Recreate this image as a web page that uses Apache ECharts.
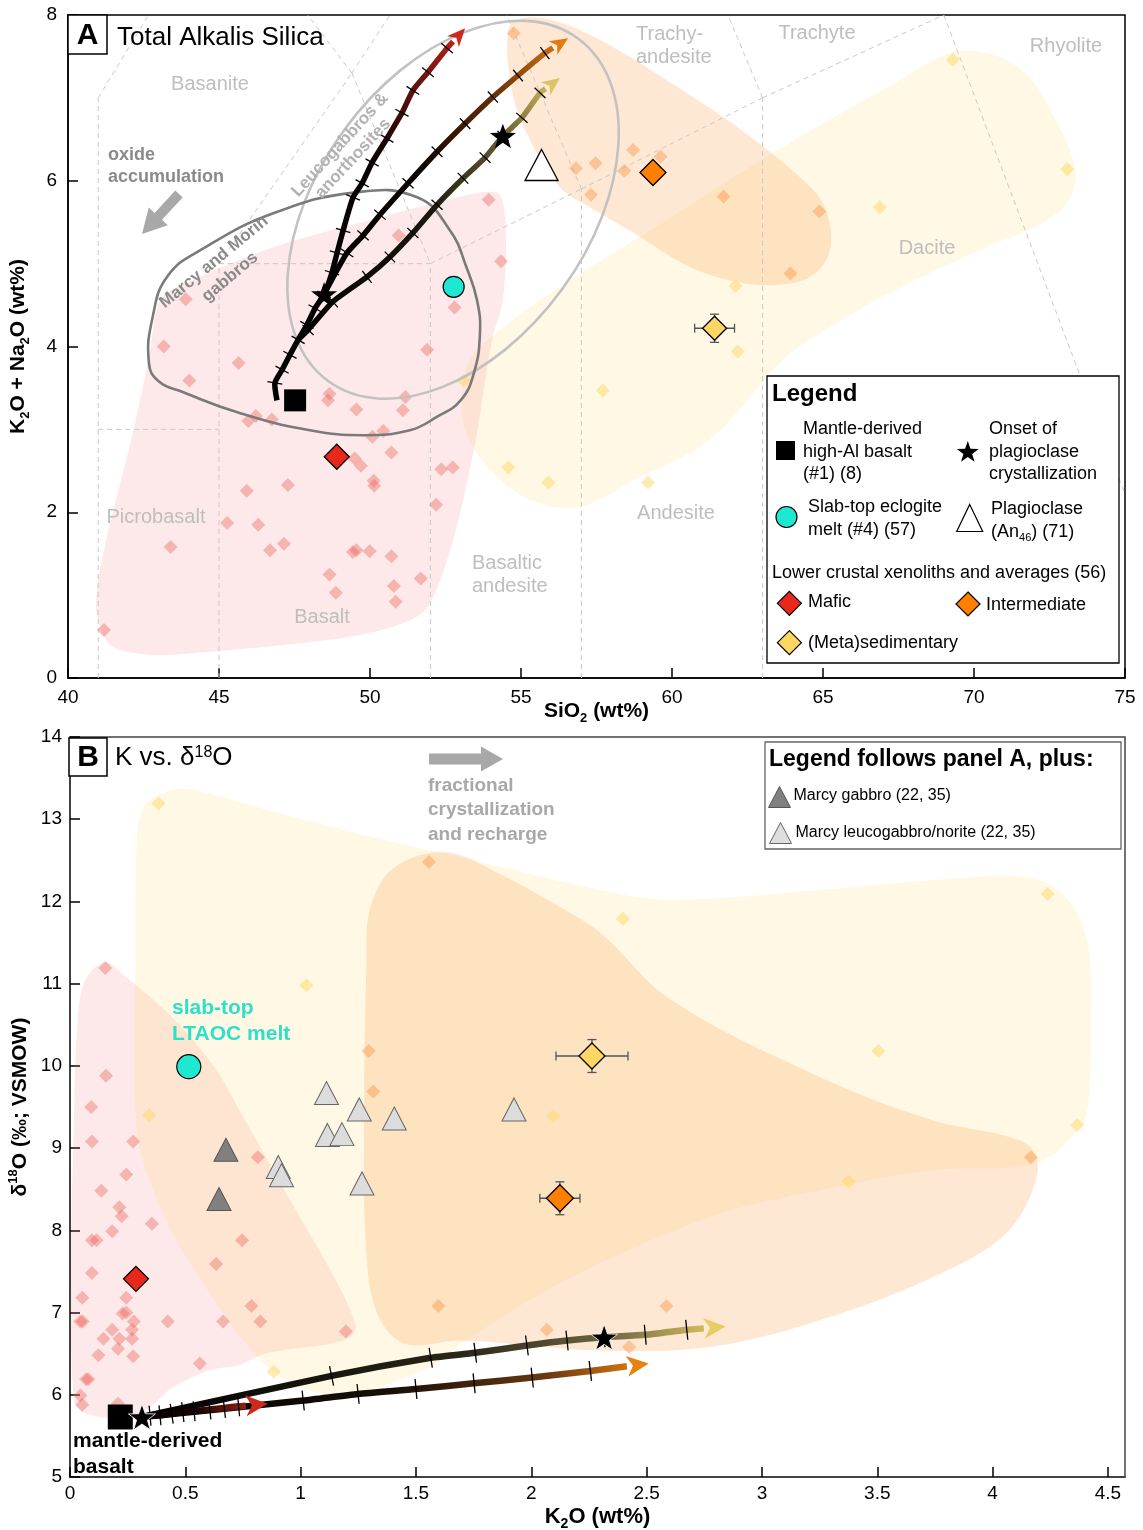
<!DOCTYPE html>
<html>
<head>
<meta charset="utf-8">
<title>TAS and K vs d18O</title>
<script src="https://cdn.jsdelivr.net/npm/echarts@6.0.0/dist/echarts.min.js"></script>
<style>
html,body{margin:0;padding:0;background:#ffffff;}
#chart{width:1143px;height:1530px;}
</style>
</head>
<body>
<div id="chart"></div>
<script>
const FONT = '"Liberation Sans", Arial, Helvetica, sans-serif';

// ================= PANEL A : Total Alkalis vs Silica =================
const tasXRange = [40, 75, 5];
const tasYRange = [0, 8, 2];

const tasBoundaries = [
  [[41,0],[41,7]], [[41,3],[45,3]], [[45,0],[45,5]], [[45,5],[52,5]],
  [[52,0],[52,5]], [[52,5],[57,5.9]], [[57,0],[57,5.9]], [[57,5.9],[63,7]],
  [[63,0],[63,7]], [[63,7],[69,8]], [[69,8],[77.3,0]], [[41,7],[45,9.4]],
  [[45,5],[49.4,7.3]], [[49.4,7.3],[52,5]], [[49.4,7.3],[45,9.4]], [[49.4,7.3],[53,9.3]],
  [[57,5.9],[53,9.3]], [[63,7],[57.6,11.7]]
];

const maficFieldA = [[40.93,0.86],[41.26,1.66],[42.09,2.87],[42.68,3.87],[43.05,4.56],[43.87,4.76],[46.82,5.20],[50.36,5.56],[53.68,5.86],[54.30,5.83],[54.50,5.37],[54.40,4.56],[54.04,4.08],[53.44,2.75],[52.75,1.66],[51.92,0.86],[51.09,0.66],[49.21,0.49],[44.47,0.31],[42.72,0.28],[41.39,0.40]];
const interFieldA = [[54.60,7.85],[54.70,7.09],[55.30,6.49],[56.29,5.92],[57.28,5.68],[58.74,5.37],[60.60,4.96],[62.45,4.76],[63.91,4.76],[64.77,4.89],[65.23,5.16],[65.17,5.56],[64.67,5.89],[62.45,6.57],[59.97,7.18],[57.62,7.70],[56.29,7.91],[55.20,7.97]];
const metaFieldA = [[53.05,3.35],[53.31,3.84],[54.30,4.20],[56.29,4.72],[59.97,5.56],[63.68,6.41],[67.38,7.18],[69.21,7.54],[70.43,7.54],[71.69,7.30],[72.65,6.77],[73.34,6.16],[73.15,5.77],[72.28,5.49],[70.43,5.20],[67.38,4.68],[64.90,4.16],[63.68,3.84],[61.23,2.87],[58.74,2.39],[56.89,2.06],[55.30,2.15],[53.97,2.51],[53.15,2.99]];

const gabbroOutlineA = [[42.68,3.80],[42.80,4.35],[43.30,4.85],[44.47,5.18],[46.82,5.61],[49.54,5.86],[51.56,5.80],[52.65,5.40],[53.20,4.95],[53.55,4.55],[53.64,4.15],[53.44,3.68],[53.00,3.35],[52.21,3.15],[51.32,2.99],[49.80,2.93],[48.01,2.99],[45.66,3.20],[43.80,3.45],[43.00,3.58]];
// leucogabbro/anorthosite field: centre (SiO2, alkalis)
const leucoCentreA = [52.75, 5.65];

const maficPtsA = [[43.17,4.00],[45.65,3.80],[44.02,3.59],[48.66,3.43],[48.61,3.35],[49.55,3.24],[51.09,3.23],[51.17,3.39],[46.22,3.16],[45.97,3.10],[46.75,3.12],[51.89,3.96],[50.44,2.98],[50.08,2.91],[50.71,2.72],[49.49,2.65],[49.70,2.56],[50.12,2.38],[50.14,2.32],[52.36,2.52],[52.74,2.54],[52.19,2.09],[47.28,2.33],[45.92,2.26],[45.27,1.87],[46.30,1.85],[43.40,1.58],[47.15,1.62],[46.69,1.54],[49.43,1.52],[49.55,1.54],[49.99,1.53],[50.71,1.47],[48.66,1.25],[48.87,1.03],[50.79,1.11],[50.85,0.92],[51.68,1.20],[41.19,0.58],[53.93,5.77],[50.95,5.34],[54.34,5.03],[43.90,4.57],[52.80,4.47]];
const interPtsA = [[54.76,7.78],[56.82,6.15],[57.47,6.21],[57.32,5.83],[58.71,6.37],[59.62,6.29],[58.42,6.12],[61.71,5.81],[64.88,5.63],[63.92,4.88]];
const metaPtsA = [[69.30,7.46],[73.09,6.14],[66.88,5.68],[62.10,4.73],[62.18,3.94],[57.71,3.47],[59.21,2.36],[53.10,3.59],[54.58,2.54],[55.91,2.36]];

const mantleA = [[47.52,3.35]];
const slabMeltA = [[52.77,4.72]];
const plagA = [[55.68,6.19]];
const maficAvgA = [[48.90,2.67]];
const interAvgA = [[59.37,6.10]];
const metaAvgA = [[61.41,4.22]];
const metaErrA = [[61.41,4.22,0.66,0.17]];
const plagOnsetA = [[48.48,4.63],[54.40,6.54]];

const redPathA = [[46.92,3.35],[46.85,3.56],[47.09,3.72],[47.35,3.90],[47.62,4.08],[47.91,4.26],[48.18,4.46],[48.48,4.63],[48.74,4.89],[48.91,5.13],[49.11,5.40],[49.44,5.80],[49.74,5.97],[50.07,6.22],[50.56,6.51],[51.06,6.82],[51.42,7.09],[51.92,7.31],[52.55,7.60],[53.15,7.84]];
const orangePathA = [[48.48,4.63],[49.24,5.13],[49.77,5.34],[50.33,5.59],[51.26,5.97],[52.22,6.35],[53.15,6.69],[54.07,7.01],[54.90,7.27],[55.79,7.54],[56.56,7.72]];
const yellowPathA = [[47.62,4.08],[47.95,4.20],[48.77,4.54],[49.90,4.84],[50.66,5.08],[51.42,5.37],[52.22,5.71],[53.08,6.03],[53.81,6.28],[54.40,6.54],[55.03,6.76],[55.63,7.06],[56.29,7.24]];

// ================= PANEL B : K2O vs d18O =================
const kXRange = [0, 4.574, 0.5];
const dYRange = [5, 14, 1];

const maficFieldB = [[0.152,11.26],[0.243,11.08],[0.443,10.59],[0.625,9.99],[0.759,9.34],[0.954,8.37],[1.128,7.52],[1.215,7.03],[1.235,6.78],[1.157,6.64],[0.859,6.51],[0.731,6.36],[0.607,6.30],[0.441,6.08],[0.325,5.81],[0.195,5.72],[0.061,5.78],[0.017,5.93],[0.004,7.55],[0.017,9.34],[0.030,10.40],[0.061,11.01]];
const metaFieldB = [[0.412,13.33],[0.312,13.11],[0.286,12.42],[0.282,11.20],[0.286,9.34],[0.325,8.77],[0.443,7.97],[0.625,7.15],[0.725,6.75],[0.859,6.34],[1.024,6.06],[1.235,6.02],[1.564,6.34],[1.701,6.63],[2.126,7.36],[2.772,8.16],[3.254,8.49],[3.740,8.73],[4.191,8.82],[4.382,9.26],[4.416,9.58],[4.425,10.40],[4.416,11.41],[4.351,11.93],[4.221,12.24],[4.061,12.31],[3.740,12.26],[3.254,12.14],[2.607,12.02],[2.299,12.14],[1.688,12.54],[1.358,12.75],[0.859,13.11],[0.521,13.36]];
const interFieldB = [[1.623,12.60],[1.40,12.40],[1.30,11.90],[1.285,11.20],[1.275,9.34],[1.284,7.76],[1.33,7.00],[1.45,6.62],[1.70,6.66],[2.28,6.54],[2.772,6.58],[3.254,6.91],[3.740,7.43],[4.061,7.97],[4.195,8.70],[4.142,9.06],[3.740,9.34],[3.254,9.86],[2.607,10.80],[2.299,11.62],[2.126,11.93],[1.852,12.35]];

const maficPtsB = [[0.153,11.19],[0.156,9.88],[0.092,9.50],[0.095,9.08],[0.274,9.08],[0.244,8.68],[0.136,8.48],[0.214,8.28],[0.224,8.17],[0.183,7.99],[0.355,8.08],[0.095,7.88],[0.115,7.88],[0.095,7.48],[0.053,7.18],[0.244,7.18],[0.045,6.89],[0.055,6.89],[0.228,6.99],[0.244,7.00],[0.277,6.89],[0.424,6.89],[0.183,6.79],[0.214,6.68],[0.145,6.68],[0.269,6.79],[0.269,6.68],[0.208,6.56],[0.123,6.48],[0.274,6.47],[0.563,6.38],[0.070,6.19],[0.080,6.19],[0.045,5.99],[0.053,5.88],[0.208,5.89],[0.634,7.59],[0.746,7.88],[0.814,8.89],[0.787,7.08],[0.664,6.89],[0.825,6.89],[1.196,6.77]];
const interPtsB = [[1.295,10.18],[1.315,9.69],[1.556,12.48],[4.166,8.89],[2.586,7.08],[2.424,6.58],[2.067,6.79],[1.597,7.08]];
const metaPtsB = [[0.384,13.19],[1.025,10.98],[0.343,9.40],[2.397,11.79],[4.239,12.09],[3.505,10.18],[0.883,6.28],[2.096,9.39],[4.367,9.28],[3.375,8.59]];

const mantleB = [[0.218,5.73]];
const slabMeltB = [[0.515,9.99]];
const maficAvgB = [[0.286,7.41]];
const interAvgB = [[2.124,8.39]];
const metaAvgB = [[2.263,10.12]];
const avgErrB = [[2.124,8.39,0.087,0.20],[2.263,10.12,0.156,0.20]];
const marcyGabbroB = [[0.676,8.98],[0.646,8.38]];
const marcyLeucoB = [[1.112,9.67],[1.254,9.47],[1.406,9.36],[1.925,9.47],[1.116,9.16],[1.179,9.17],[0.903,8.77],[0.917,8.67],[1.266,8.57]];
const plagOnsetB = [[0.312,5.73],[2.316,6.70]];

const redPathB = [[0.312,5.73],[0.347,5.745],[0.390,5.75],[0.441,5.77],[0.489,5.79],[0.538,5.80],[0.606,5.82],[0.669,5.84],[0.731,5.86],[0.857,5.89]];
const orangePathB = [[0.312,5.73],[1.011,5.93],[1.249,6.01],[1.500,6.07],[1.752,6.14],[2.004,6.21],[2.256,6.29],[2.509,6.38]];
const yellowPathB = [[0.312,5.73],[1.134,6.23],[1.564,6.45],[1.757,6.51],[1.981,6.60],[2.155,6.66],[2.316,6.70],[2.494,6.73],[2.674,6.79],[2.843,6.83]];

// ================= helpers =================
const STAR = 'M0,-10 L2.35,-3.24 L9.51,-3.09 L3.8,1.24 L5.88,8.09 L0,4 L-5.88,8.09 L-3.8,1.24 L-9.51,-3.09 L-2.35,-3.24 Z';

function polySeries(ax, pts, style, smooth, z) {
  return {
    type: 'custom', xAxisIndex: ax, yAxisIndex: ax, data: [pts[0]], silent: true, z: z, clip: true,
    renderItem: function (params, api) {
      return { type: 'polygon', shape: { points: pts.map(p => api.coord(p)), smooth: smooth }, style: style };
    }
  };
}

function ellipseSeries(ax, centre, rx, ry, angleDeg, style, z) {
  return {
    type: 'custom', xAxisIndex: ax, yAxisIndex: ax, data: [centre], silent: true, z: z, clip: true,
    renderItem: function (params, api) {
      const c = api.coord(centre);
      return { type: 'ellipse', x: c[0], y: c[1], rotation: angleDeg * Math.PI / 180,
        shape: { cx: 0, cy: 0, rx: rx, ry: ry }, style: style };
    }
  };
}

function segSeries(ax, segs, style, z) {
  return {
    type: 'custom', xAxisIndex: ax, yAxisIndex: ax, data: [segs[0][0]], silent: true, z: z, clip: true,
    renderItem: function (params, api) {
      return {
        type: 'group', children: segs.map(s => {
          const a = api.coord(s[0]), b = api.coord(s[1]);
          return { type: 'line', shape: { x1: a[0], y1: a[1], x2: b[0], y2: b[1] }, style: style };
        })
      };
    }
  };
}

function pathSeries(ax, pts, o, z) {
  return {
    type: 'custom', xAxisIndex: ax, yAxisIndex: ax, data: [pts[0]], silent: true, z: z, clip: false,
    renderItem: function (params, api) {
      const P = pts.map(p => api.coord(p));
      const n = P.length;
      const tip = P[n - 1], prev = P[n - 2];
      let dx = tip[0] - prev[0], dy = tip[1] - prev[1];
      const L = Math.hypot(dx, dy); dx /= L; dy /= L;
      const base = [tip[0] - dx * o.headLen, tip[1] - dy * o.headLen];
      const linePts = P.slice(0, n - 1).concat([base]);
      const grad = new echarts.graphic.LinearGradient(P[0][0], P[0][1], tip[0], tip[1], o.stops, true);
      const ch = [];
      ch.push({ type: 'polyline', shape: { points: linePts, smooth: 0.2 }, style: { stroke: grad, lineWidth: o.width, fill: null, lineCap: 'butt', lineJoin: 'round' } });
      for (let i = 1; i < n - 1; i++) {
        const a = P[i - 1], b = P[i + 1];
        let tx = b[0] - a[0], ty = b[1] - a[1];
        const l = Math.hypot(tx, ty); tx /= l; ty /= l;
        const nx = -ty, ny = tx;
        ch.push({ type: 'line', shape: { x1: P[i][0] - nx * o.tick, y1: P[i][1] - ny * o.tick, x2: P[i][0] + nx * o.tick, y2: P[i][1] + ny * o.tick }, style: { stroke: '#000', lineWidth: 1.3 } });
      }
      const nx = -dy, ny = dx, hw = o.headW / 2;
      ch.push({ type: 'polygon', shape: { points: [tip, [base[0] + nx * hw, base[1] + ny * hw], [base[0] + dx * o.headLen * 0.28, base[1] + dy * o.headLen * 0.28], [base[0] - nx * hw, base[1] - ny * hw]] }, style: { fill: o.head } });
      return { type: 'group', children: ch };
    }
  };
}

function errSeries(ax, rows, z) {
  return {
    type: 'custom', xAxisIndex: ax, yAxisIndex: ax, data: [[rows[0][0], rows[0][1]]], silent: true, z: z, clip: false,
    renderItem: function (params, api) {
      const st = { stroke: '#555', lineWidth: 1.3 };
      const ch = [];
      const ln = (x1, y1, x2, y2) => ch.push({ type: 'line', shape: { x1, y1, x2, y2 }, style: st });
      rows.forEach(r => {
        const l = api.coord([r[0] - r[2], r[1]]), rr = api.coord([r[0] + r[2], r[1]]);
        const t = api.coord([r[0], r[1] + r[3]]), b = api.coord([r[0], r[1] - r[3]]);
        ln(l[0], l[1], rr[0], rr[1]); ln(l[0], l[1] - 4.5, l[0], l[1] + 4.5); ln(rr[0], rr[1] - 4.5, rr[0], rr[1] + 4.5);
        ln(t[0], t[1], b[0], b[1]); ln(t[0] - 4.5, t[1], t[0] + 4.5, t[1]); ln(b[0] - 4.5, b[1], b[0] + 4.5, b[1]);
      });
      return { type: 'group', children: ch };
    }
  };
}

function sc(ax, data, symbol, size, color, border, bw, z) {
  return {
    type: 'scatter', xAxisIndex: ax, yAxisIndex: ax, data: data, symbol: symbol, symbolSize: size,
    symbolKeepAspect: true, silent: true, z: z, animation: false,
    itemStyle: { color: color, borderColor: border || 'rgba(0,0,0,0)', borderWidth: bw || 0, opacity: 1 }
  };
}

function txt(x, y, text, o) {
  o = o || {};
  const el = {
    type: 'text', x: x, y: y, z: 100, silent: true, rotation: o.rot ? o.rot * Math.PI / 180 : 0,
    style: {
      text: text, fill: o.color || '#000',
      font: (o.weight || 'normal') + ' ' + (o.size || 18) + 'px ' + FONT,
      textAlign: o.align || 'left', align: o.align || 'left',
      textVerticalAlign: o.va || 'middle', verticalAlign: o.va || 'middle'
    }
  };
  if (o.lh) el.style.lineHeight = o.lh;
  if (o.rich) el.style.rich = o.rich;
  return el;
}

function arrowPts(x1, y1, x2, y2, sw, hl, hw) {
  const dx = x2 - x1, dy = y2 - y1, L = Math.hypot(dx, dy), ux = dx / L, uy = dy / L, nx = -uy, ny = ux;
  const bx = x2 - ux * hl, by = y2 - uy * hl;
  return [[x1 + nx * sw / 2, y1 + ny * sw / 2], [bx + nx * sw / 2, by + ny * sw / 2], [bx + nx * hw / 2, by + ny * hw / 2], [x2, y2],
          [bx - nx * hw / 2, by - ny * hw / 2], [bx - nx * sw / 2, by - ny * sw / 2], [x1 - nx * sw / 2, y1 - ny * sw / 2]];
}
function diamondPts(cx, cy, s) { const h = s / 2; return [[cx, cy - h], [cx + h, cy], [cx, cy + h], [cx - h, cy]]; }
function triPts(cx, cy, w, h) { return [[cx, cy - h / 2], [cx + w / 2, cy + h / 2], [cx - w / 2, cy + h / 2]]; }
function starPts(cx, cy, r) {
  const out = [];
  for (let i = 0; i < 10; i++) {
    const ang = -Math.PI / 2 + i * Math.PI / 5;
    const rr = (i % 2 === 0) ? r : r * 0.4;
    out.push([cx + rr * Math.cos(ang), cy + rr * Math.sin(ang)]);
  }
  return out;
}
function poly(points, fill, stroke, lw) { return { type: 'polygon', z: 101, silent: true, shape: { points }, style: { fill, stroke: stroke || null, lineWidth: lw || 0 } }; }

// ================= styles =================
const FILL_MAFIC = 'rgba(240,120,120,0.16)';
const FILL_META = 'rgba(255,212,100,0.17)';
const FILL_INTER = 'rgba(250,165,90,0.26)';
const PT_MAFIC = 'rgba(236,100,90,0.40)';
const PT_INTER = 'rgba(250,150,70,0.45)';
const PT_META = 'rgba(255,215,100,0.50)';
const C_RED = '#e8281a', C_ORANGE = '#ff7f00', C_YELLOW = '#fdd663', C_CYAN = '#1de9d2';

const subRich = (size) => ({
  b: { fontSize: size, fontWeight: 'bold', fontFamily: FONT, lineHeight: size + 6, color: '#000' },
  s: { fontSize: Math.round(size * 0.62), fontWeight: 'bold', fontFamily: FONT, verticalAlign: 'bottom', lineHeight: Math.round(size * 0.62), color: '#000' },
  p: { fontSize: Math.round(size * 0.62), fontWeight: 'bold', fontFamily: FONT, verticalAlign: 'top', lineHeight: Math.round(size * 0.62), color: '#000' }
});

function axisBase(extra) {
  return Object.assign({
    type: 'value',
    axisLine: { show: true, onZero: false, lineStyle: { color: '#000', width: 1.5 } },
    axisTick: { show: true, inside: true, length: 10, lineStyle: { color: '#000', width: 1.5 } },
    axisLabel: { color: '#000', fontSize: 19, fontFamily: FONT },
    splitLine: { show: false },
    nameLocation: 'middle', nameMoveOverlap: false
  }, extra);
}

const series = [
  // ---- panel A ----
  polySeries(0, metaFieldA, { fill: FILL_META }, 0.35, 1),
  polySeries(0, interFieldA, { fill: FILL_INTER }, 0.35, 1),
  polySeries(0, maficFieldA, { fill: FILL_MAFIC }, 0.3, 1),
  segSeries(0, tasBoundaries, { stroke: '#c9c9c9', lineWidth: 1, lineDash: [5, 4] }, 2),
  sc(0, maficPtsA, 'diamond', 14, PT_MAFIC, null, 0, 3),
  sc(0, interPtsA, 'diamond', 14, PT_INTER, null, 0, 3),
  sc(0, metaPtsA, 'diamond', 14, PT_META, null, 0, 3),
  ellipseSeries(0, leucoCentreA, 212, 135, 54, { fill: null, stroke: '#c2c2c2', lineWidth: 2.6 }, 4),
  polySeries(0, gabbroOutlineA, { fill: null, stroke: '#7a7a7a', lineWidth: 2.6 }, 0.45, 4),
  pathSeries(0, redPathA, { width: 5.5, tick: 7.5, headLen: 18, headW: 16, head: '#cc2a1c',
    stops: [{ offset: 0, color: '#000' }, { offset: 0.62, color: '#0a0202' }, { offset: 0.85, color: '#6e140e' }, { offset: 1, color: '#cc2a1c' }] }, 5),
  pathSeries(0, orangePathA, { width: 5.5, tick: 7.5, headLen: 18, headW: 16, head: '#e27a12',
    stops: [{ offset: 0, color: '#000' }, { offset: 0.45, color: '#0c0600' }, { offset: 0.72, color: '#5e2c08' }, { offset: 1, color: '#e27a12' }] }, 5),
  pathSeries(0, yellowPathA, { width: 5.5, tick: 7.5, headLen: 18, headW: 16, head: '#dcc464',
    stops: [{ offset: 0, color: '#000' }, { offset: 0.5, color: '#1c180e' }, { offset: 0.78, color: '#6a5e34' }, { offset: 1, color: '#dcc464' }] }, 5),
  errSeries(0, metaErrA, 6),
  sc(0, mantleA, 'rect', 22, '#000', null, 0, 7),
  sc(0, slabMeltA, 'circle', 21, C_CYAN, '#000', 1.2, 7),
  sc(0, plagA, 'triangle', [33, 31], '#fff', '#000', 1.3, 7),
  sc(0, maficAvgA, 'diamond', 25, C_RED, '#000', 1.3, 7),
  sc(0, interAvgA, 'diamond', 26, C_ORANGE, '#000', 1.3, 7),
  sc(0, metaAvgA, 'diamond', 24, C_YELLOW, '#000', 1.3, 7),
  sc(0, plagOnsetA, 'path://' + STAR, 26, '#000', null, 0, 8),

  // ---- panel B ----
  polySeries(1, maficFieldB, { fill: FILL_MAFIC }, 0.35, 1),
  polySeries(1, metaFieldB, { fill: FILL_META }, 0.35, 1),
  polySeries(1, interFieldB, { fill: FILL_INTER }, 0.35, 1),
  sc(1, maficPtsB, 'diamond', 14, PT_MAFIC, null, 0, 3),
  sc(1, interPtsB, 'diamond', 14, PT_INTER, null, 0, 3),
  sc(1, metaPtsB, 'diamond', 14, PT_META, null, 0, 3),
  pathSeries(1, yellowPathB, { width: 6.5, tick: 10, headLen: 22, headW: 21, head: '#e6cc66',
    stops: [{ offset: 0, color: '#000' }, { offset: 0.55, color: '#2a2618' }, { offset: 0.8, color: '#6e6440' }, { offset: 1, color: '#e6cc66' }] }, 5),
  pathSeries(1, orangePathB, { width: 6.5, tick: 10, headLen: 22, headW: 21, head: '#e8820e',
    stops: [{ offset: 0, color: '#000' }, { offset: 0.5, color: '#1a0f06' }, { offset: 0.8, color: '#6a3812' }, { offset: 1, color: '#e8820e' }] }, 5),
  pathSeries(1, redPathB, { width: 6.5, tick: 10, headLen: 22, headW: 21, head: '#cc2a1c',
    stops: [{ offset: 0, color: '#000' }, { offset: 0.45, color: '#1a0604' }, { offset: 1, color: '#cc2a1c' }] }, 5),
  errSeries(1, avgErrB, 6),
  sc(1, marcyGabbroB, 'triangle', [24, 23], '#808080', '#555', 1, 7),
  sc(1, marcyLeucoB, 'triangle', [24, 23], '#dcdcdc', '#666', 1, 7),
  sc(1, mantleB, 'rect', 25, '#000', null, 0, 7),
  sc(1, slabMeltB, 'circle', 24, C_CYAN, '#000', 1.2, 7),
  sc(1, maficAvgB, 'diamond', 25, C_RED, '#000', 1.3, 7),
  sc(1, interAvgB, 'diamond', 27, C_ORANGE, '#000', 1.3, 7),
  sc(1, metaAvgB, 'diamond', 26, C_YELLOW, '#000', 1.3, 7),
  sc(1, plagOnsetB, 'path://' + STAR, 27, '#000', '#fff', 0.8, 8)
];

// ================= annotations =================
const GREY_LBL = '#bebebe';
const graphics = [
  // Panel A header
  { type: 'rect', z: 100, silent: true, shape: { x: 68, y: 15, width: 39, height: 39 }, style: { fill: '#fff', stroke: '#000', lineWidth: 1.5 } },
  txt(87.5, 35.5, 'A', { weight: 'bold', size: 30, align: 'center' }),
  txt(117, 38, 'Total Alkalis Silica', { size: 26 }),
  // field names
  txt(210, 84, 'Basanite', { color: GREY_LBL, size: 20, align: 'center' }),
  txt(156, 517, 'Picrobasalt', { color: GREY_LBL, size: 20, align: 'center' }),
  txt(322, 617, 'Basalt', { color: GREY_LBL, size: 20, align: 'center' }),
  txt(472, 575, 'Basaltic\nandesite', { color: GREY_LBL, size: 20, lh: 23 }),
  txt(676, 513, 'Andesite', { color: GREY_LBL, size: 20, align: 'center' }),
  txt(927, 248, 'Dacite', { color: GREY_LBL, size: 20, align: 'center' }),
  txt(636, 46, 'Trachy-\nandesite', { color: GREY_LBL, size: 20, lh: 23 }),
  txt(817, 33, 'Trachyte', { color: GREY_LBL, size: 20, align: 'center' }),
  txt(1066, 46, 'Rhyolite', { color: GREY_LBL, size: 20, align: 'center' }),
  // oxide accumulation
  txt(108, 166, 'oxide\naccumulation', { weight: 'bold', size: 18, color: '#8a8a8a', lh: 22 }),
  poly(arrowPts(179, 194, 142, 234, 10, 24, 26), '#a8a8a8'),
  // outline labels
  txt(214, 262, 'Marcy and Morin', { weight: 'bold', size: 17, color: '#8a8a8a', align: 'center', rot: 39.5 }),
  txt(230, 277, 'gabbros', { weight: 'bold', size: 17, color: '#8a8a8a', align: 'center', rot: 40 }),
  txt(340, 145, 'Leucogabbros &', { weight: 'bold', size: 17, color: '#b2b2b2', align: 'center', rot: 47.5 }),
  txt(353, 158.5, 'anorthosites', { weight: 'bold', size: 17, color: '#b2b2b2', align: 'center', rot: 47 }),

  // Legend A
  { type: 'rect', z: 100, silent: true, shape: { x: 767, y: 376, width: 352, height: 287 }, style: { fill: '#fff', stroke: '#000', lineWidth: 1.3 } },
  txt(772, 394, 'Legend', { weight: 'bold', size: 24 }),
  { type: 'rect', z: 101, silent: true, shape: { x: 776, y: 441, width: 19, height: 19 }, style: { fill: '#000' } },
  txt(803, 418, 'Mantle-derived\nhigh-Al basalt\n(#1) (8)', { size: 18, va: 'top', lh: 22.5 }),
  poly(starPts(967.8, 452.5, 11.5), '#000'),
  txt(989, 418, 'Onset of\nplagioclase\ncrystallization', { size: 18, va: 'top', lh: 22.5 }),
  { type: 'circle', z: 101, silent: true, shape: { cx: 786.5, cy: 517, r: 10.5 }, style: { fill: C_CYAN, stroke: '#000', lineWidth: 1.2 } },
  txt(808, 496, 'Slab-top eclogite\nmelt (#4) (57)', { size: 18, va: 'top', lh: 22.5 }),
  poly(triPts(969.7, 518, 26, 27), '#fff', '#000', 1.2),
  txt(991, 498, 'Plagioclase\n(An{s|46}) (71)', { size: 18, va: 'top', lh: 22.5,
    rich: { s: { fontSize: 11, fontFamily: FONT, verticalAlign: 'bottom', lineHeight: 11, color: '#000' } } }),
  txt(772, 573, 'Lower crustal xenoliths and averages (56)', { size: 18 }),
  poly(diamondPts(789.4, 603.3, 24), C_RED, '#000', 1.2),
  txt(808, 602, 'Mafic', { size: 18 }),
  poly(diamondPts(968, 604, 24), C_ORANGE, '#000', 1.2),
  txt(986, 605, 'Intermediate', { size: 18 }),
  poly(diamondPts(789.4, 642.7, 24), C_YELLOW, '#000', 1.2),
  txt(808, 643, '(Meta)sedimentary', { size: 18 }),

  // Panel B header
  { type: 'rect', z: 100, silent: true, shape: { x: 69, y: 738, width: 38, height: 38 }, style: { fill: '#fff', stroke: '#000', lineWidth: 1.5 } },
  txt(88, 758, 'B', { weight: 'bold', size: 30, align: 'center' }),
  txt(115, 758, 'K vs. δ{p|18}O', { size: 26,
    rich: { p: { fontSize: 16, fontFamily: FONT, verticalAlign: 'top', lineHeight: 16, color: '#000' } } }),
  poly(arrowPts(429, 759, 503, 759, 11, 22, 25), '#a8a8a8'),
  txt(428, 810, 'fractional\ncrystallization\nand recharge', { weight: 'bold', size: 19, color: '#a8a8a8', lh: 24.5 }),
  txt(172, 1021, 'slab-top\nLTAOC melt', { weight: 'bold', size: 21, color: '#2ee0c6', lh: 26 }),
  txt(73, 1454, 'mantle-derived\nbasalt', { weight: 'bold', size: 21, color: '#000', lh: 26 }),

  // Legend B
  { type: 'rect', z: 100, silent: true, shape: { x: 765, y: 742, width: 356, height: 107 }, style: { fill: '#fff', stroke: '#666', lineWidth: 1.3 } },
  txt(769, 760, 'Legend follows panel A, plus:', { weight: 'bold', size: 23 }),
  poly(triPts(779.5, 797, 22, 21), '#808080', '#555', 1),
  txt(793.5, 796, 'Marcy gabbro (22, 35)', { size: 16 }),
  poly(triPts(780.5, 833, 22, 21), '#dedede', '#666', 1),
  txt(795.5, 833, 'Marcy leucogabbro/norite (22, 35)', { size: 16 })
];

const option = {
  animation: false,
  backgroundColor: '#ffffff',
  textStyle: { fontFamily: FONT },
  grid: [
    { left: 68, top: 15, right: 18, bottom: 852, show: true, borderColor: '#000', borderWidth: 1.5, containLabel: false, outerBoundsMode: 'none' },
    { left: 70, top: 737, right: 18, bottom: 53, show: true, borderColor: '#444', borderWidth: 1.5, containLabel: false, outerBoundsMode: 'none' }
  ],
  xAxis: [
    axisBase({ gridIndex: 0, min: tasXRange[0], max: tasXRange[1], interval: tasXRange[2],
      axisLabel: { color: '#000', fontSize: 19, fontFamily: FONT, margin: 10 },
      name: '{b|SiO}{s|2}{b| (wt%)}', nameGap: 20, nameTextStyle: { rich: subRich(21) } }),
    axisBase({ gridIndex: 1, min: kXRange[0], max: kXRange[1], interval: kXRange[2],
      axisLine: { show: true, onZero: false, lineStyle: { color: '#333', width: 1.5 } },
      axisLabel: { color: '#000', fontSize: 19, fontFamily: FONT, margin: 7, showMaxLabel: false,
        formatter: v => (Math.abs(v / 0.5 - Math.round(v / 0.5)) < 1e-6 ? String(v) : '') },
      name: '{b|K}{s|2}{b|O (wt%)}', nameGap: 26, nameTextStyle: { rich: subRich(22) } })
  ],
  yAxis: [
    axisBase({ gridIndex: 0, min: tasYRange[0], max: tasYRange[1], interval: tasYRange[2],
      axisLabel: { color: '#000', fontSize: 19, fontFamily: FONT, margin: 11 },
      name: '{b|K}{s|2}{b|O + Na}{s|2}{b|O (wt%)}', nameGap: 36, nameTextStyle: { rich: subRich(21) } }),
    axisBase({ gridIndex: 1, min: dYRange[0], max: dYRange[1], interval: dYRange[2],
      axisLine: { show: true, onZero: false, lineStyle: { color: '#333', width: 1.5 } },
      axisLabel: { color: '#000', fontSize: 19, fontFamily: FONT, margin: 8 },
      name: '{b|δ}{p|18}{b|O (‰; VSMOW)}', nameGap: 36, nameTextStyle: { rich: subRich(21) } })
  ],
  series: series,
  graphic: { elements: graphics }
};

const chart = echarts.init(document.getElementById('chart'), null, { renderer: 'canvas', width: 1143, height: 1530 });
chart.setOption(option);
</script>
</body>
</html>
